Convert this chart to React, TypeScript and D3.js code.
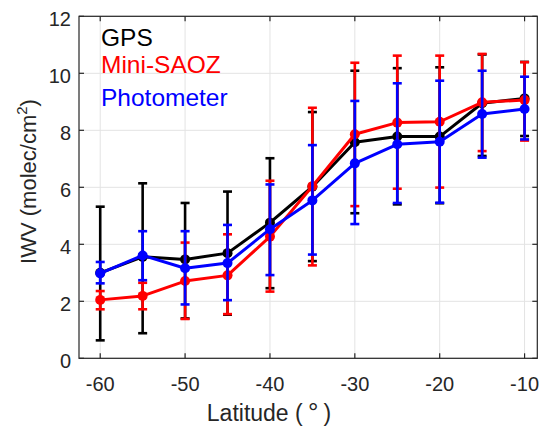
import React from "react";
import * as d3 from "d3";

const latitudes = [-60, -55, -50, -45, -40, -35, -30, -25, -20, -15, -10];

const gpsMean = [3.0, 3.56, 3.47, 3.69, 4.76, 6.02, 7.58, 7.78, 7.78, 8.95, 9.12];
const gpsLow = [0.63, 0.88, 1.4, 1.53, 2.46, 3.41, 5.09, 5.4, 5.44, 7.1, 7.8];
const gpsHigh = [5.32, 6.14, 5.45, 5.85, 7.02, 8.64, 10.09, 10.18, 10.21, 10.66, 10.4];

const saozMean = [2.05, 2.19, 2.71, 2.91, 4.27, 6.04, 7.86, 8.27, 8.3, 8.98, 9.06];
const saozLow = [1.72, 1.72, 1.38, 1.55, 2.34, 3.26, 5.34, 5.95, 5.99, 7.27, 7.64];
const saozHigh = [2.36, 2.65, 4.06, 4.35, 6.23, 8.79, 10.37, 10.62, 10.62, 10.68, 10.39];

const photoMean = [2.98, 3.61, 3.16, 3.34, 4.53, 5.54, 6.84, 7.51, 7.6, 8.57, 8.75];
const photoLow = [2.63, 2.74, 1.89, 2.04, 2.92, 3.64, 4.71, 5.45, 5.46, 7.04, 7.68];
const photoHigh = [3.38, 4.46, 4.46, 4.68, 6.1, 7.48, 9.03, 9.65, 9.74, 10.09, 9.88];

const xTicks = [-60, -50, -40, -30, -20, -10];
const yTicks = [0, 2, 4, 6, 8, 10, 12];

const seriesNames = ["GPS", "Mini-SAOZ", "Photometer"];
const seriesColors = ["#000000", "#ff0000", "#0000ff"];

const W = 542;
const H = 426;
const L = 79, R = 537.3, T = 16.3, B = 358.3;

export default function App() {
  const x = d3.scaleLinear().domain([-62.5, -8.5]).range([L, R]);
  const y = d3.scaleLinear().domain([0, 12]).range([B, T]);

  const series = [
    { name: seriesNames[0], color: seriesColors[0], mean: gpsMean, low: gpsLow, high: gpsHigh },
    { name: seriesNames[1], color: seriesColors[1], mean: saozMean, low: saozLow, high: saozHigh },
    { name: seriesNames[2], color: seriesColors[2], mean: photoMean, low: photoLow, high: photoHigh },
  ];

  const line = d3
    .line<number>()
    .x((_, i) => x(latitudes[i]))
    .y((d) => y(d));

  const font = "'Liberation Sans', Arial, Helvetica, sans-serif";
  const axisColor = "#262626";
  const capHalf = 4.5;

  return (
    <svg
      width={W}
      height={H}
      style={{ position: "absolute", left: 0, top: 0, background: "#fff" }}
      fontFamily={font}
    >
      <rect x={0} y={0} width={W} height={H} fill="#fff" />
      {/* grid */}
      {xTicks.map((t) => (
        <line key={"gx" + t} x1={x(t)} x2={x(t)} y1={T} y2={B} stroke="#e3e3e3" strokeWidth={1} />
      ))}
      {yTicks.map((t) => (
        <line key={"gy" + t} x1={L} x2={R} y1={y(t)} y2={y(t)} stroke="#e3e3e3" strokeWidth={1} />
      ))}

      {/* series */}
      {series.map((s) => (
        <g key={s.name}>
          {latitudes.map((lat, i) => (
            <g key={lat}>
              <line x1={x(lat)} x2={x(lat)} y1={y(s.low[i])} y2={y(s.high[i])} stroke={s.color} strokeWidth={2.6} />
              <line x1={x(lat) - capHalf} x2={x(lat) + capHalf} y1={y(s.low[i])} y2={y(s.low[i])} stroke={s.color} strokeWidth={2.6} />
              <line x1={x(lat) - capHalf} x2={x(lat) + capHalf} y1={y(s.high[i])} y2={y(s.high[i])} stroke={s.color} strokeWidth={2.6} />
            </g>
          ))}
          <path d={line(s.mean) || ""} fill="none" stroke={s.color} strokeWidth={3} strokeLinejoin="round" />
          {latitudes.map((lat, i) => (
            <circle key={"c" + lat} cx={x(lat)} cy={y(s.mean[i])} r={5} fill={s.color} />
          ))}
        </g>
      ))}

      {/* axes box */}
      <rect x={L} y={T} width={R - L} height={B - T} fill="none" stroke={axisColor} strokeWidth={1.2} />
      {xTicks.map((t) => (
        <g key={"tx" + t}>
          <line x1={x(t)} x2={x(t)} y1={B} y2={B - 5} stroke={axisColor} strokeWidth={1.2} />
          <line x1={x(t)} x2={x(t)} y1={T} y2={T + 5} stroke={axisColor} strokeWidth={1.2} />
          <text x={x(t)} y={391} textAnchor="middle" fontSize={20} fill={axisColor}>
            {t}
          </text>
        </g>
      ))}
      {yTicks.map((t) => (
        <g key={"ty" + t}>
          <line x1={L} x2={L + 5} y1={y(t)} y2={y(t)} stroke={axisColor} strokeWidth={1.2} />
          <line x1={R} x2={R - 5} y1={y(t)} y2={y(t)} stroke={axisColor} strokeWidth={1.2} />
          <text x={71} y={y(t) + 9.5} textAnchor="end" fontSize={20} fill={axisColor}>
            {t}
          </text>
        </g>
      ))}

      {/* axis labels */}
      <text x={269} y={420.5} textAnchor="middle" fontSize={23} fill={axisColor}>
        Latitude (<tspan fontSize={26}>{"\u2009°\u2009"}</tspan>)
      </text>
      <text
        transform={`translate(35.5, 181.5) rotate(-90)`}
        textAnchor="middle"
        fontSize={22}
        fill={axisColor}
      >
        IWV (molec/cm
        <tspan fontSize={15} dy={-9}>2</tspan>
        <tspan dy={9}>)</tspan>
      </text>

      {/* legend labels */}
      <text x={101} y={46} fontSize={24.5} fill={seriesColors[0]}>{seriesNames[0]}</text>
      <text x={101} y={73.3} fontSize={24.5} fill={seriesColors[1]}>{seriesNames[1]}</text>
      <text x={101} y={106} fontSize={24.5} fill={seriesColors[2]}>{seriesNames[2]}</text>
    </svg>
  );
}
